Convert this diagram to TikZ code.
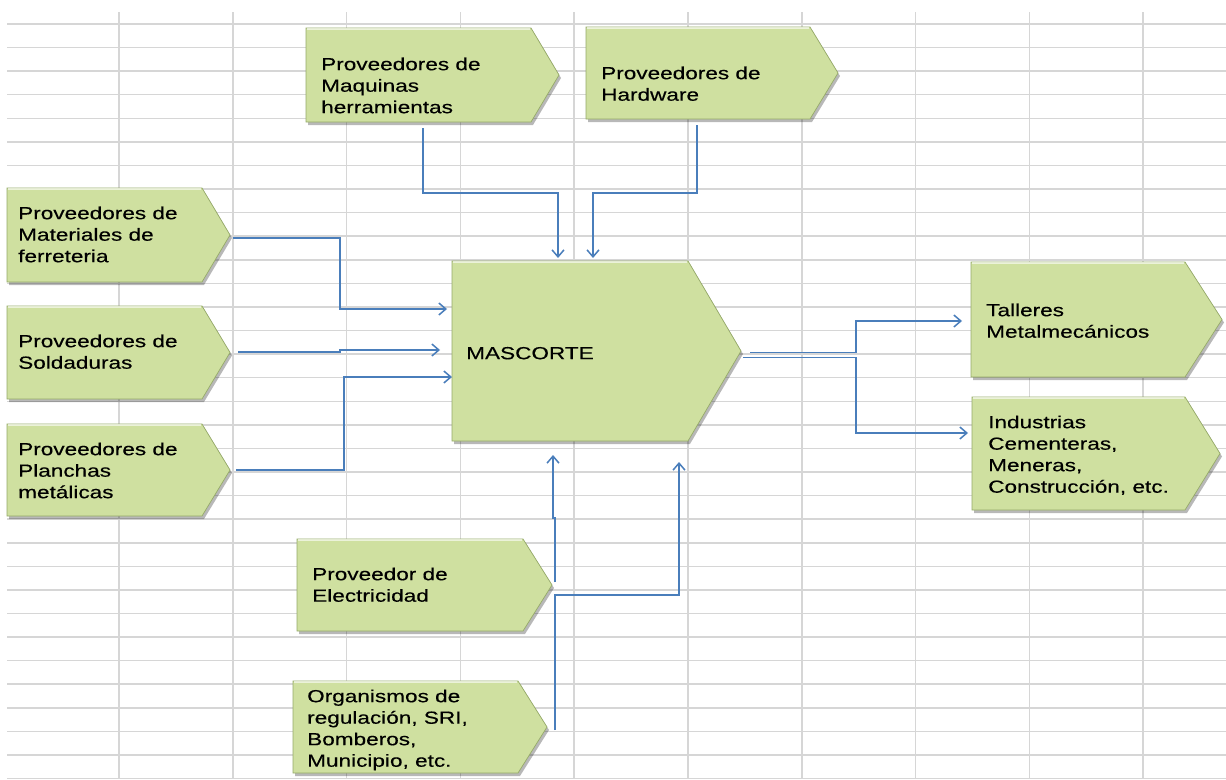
\documentclass[tikz,border=0pt]{standalone}
\usepackage{fontspec}
\usetikzlibrary{arrows.meta}
\newfontfamily\lbfont[FakeStretch=1.29,FakeBold=0.35]{Liberation Sans}
\definecolor{boxgreen}{RGB}{207,224,160}
\definecolor{boxedge}{RGB}{150,170,105}
\definecolor{linkblue}{RGB}{74,126,187}
\definecolor{gridgray}{RGB}{214,214,214}
\tikzset{
  gridline/.style={draw=gridgray, line width=1.5pt},
  boxshadow/.style={fill=black, opacity=0.28},
  boxfill/.style={fill=boxgreen, draw=boxedge, line width=0.7pt},
  lbl/.style={anchor=north west, inner sep=0pt, align=left,
    font=\lbfont\fontsize{17.5}{21.5}\selectfont, text=black},
  link/.style={draw=linkblue, line width=1.5pt,
    -{Straight Barb[length=7pt,width=12pt]}},
}
\newcommand{\chev}[5]{%
  \path[boxshadow] (#1+2,#2+3) -- (#3+2,#2+3) -- (#4+2,{(#2+#5)/2+3}) -- (#3+2,#5+3) -- (#1+2,#5+3) -- cycle;
  \path[boxfill] (#1,#2) -- (#3,#2) -- (#4,{(#2+#5)/2}) -- (#3,#5) -- (#1,#5) -- cycle;
  \draw[white, opacity=0.6, line width=1.2pt] (#1+1,#2+1) -- (#3-1,#2+1);
}
\newcommand{\st}{\rule{0pt}{16pt}}
\begin{document}
\begin{tikzpicture}[x=1pt,y=-1pt]
\useasboundingbox (0,0) rectangle (1226,779);
\fill[white] (0,0) rectangle (1226,779);
% spreadsheet grid
\foreach \k in {0,...,32} \draw[gridline] (7,{24+23.58*\k}) -- (1226,{24+23.58*\k});
\foreach \k in {0,...,9} \draw[gridline] ({119+113.8*\k},12) -- ({119+113.8*\k},779);

% boxes
\chev{306}{28}{531}{559}{122}
\chev{586}{27}{810}{838}{119}
\chev{7}{188}{202}{230}{282}
\chev{7}{306}{202}{230}{399}
\chev{7}{424}{202}{230}{516}
\chev{452}{261}{688}{741}{441}
\chev{971}{262}{1185}{1222}{377}
\chev{972}{397}{1185}{1220}{510}
\chev{297}{539}{523}{552}{631}
\chev{293}{681}{518}{547}{773}

% texts
\node[lbl] (maq) at (321,54) {\st Proveedores de\\Maquinas\\herramientas};
\node[lbl] (hw)  at (601,63) {\st Proveedores de\\Hardware};
\node[lbl] (mat) at (18,203) {\st Proveedores de\\Materiales de\\ferreteria};
\node[lbl] (sol) at (18,331) {\st Proveedores de\\Soldaduras};
\node[lbl] (pla) at (18,439) {\st Proveedores de\\Planchas\\met\'alicas};
\node[lbl] (mas) at (466,343) {\st MASCORTE};
\node[lbl] (tal) at (986,300) {\st Talleres\\Metalmec\'anicos};
\node[lbl] (ind) at (988,412) {\st Industrias\\Cementeras,\\Meneras,\\Construcci\'on, etc.};
\node[lbl] (ele) at (312,564) {\st Proveedor de\\Electricidad};
\node[lbl] (org) at (307,686) {\st Organismos de\\regulaci\'on, SRI,\\Bomberos,\\Municipio, etc.};

% connection points
\coordinate (maqout) at (423,128);
\coordinate (hwout)  at (697,125);
\coordinate (matout) at (233,238);
\coordinate (solout) at (238,352);
\coordinate (plaout) at (236,470);
\coordinate (masout1) at (750,352.7);
\coordinate (masout2) at (743,357.7);
\coordinate (eleout) at (555,582);
\coordinate (orgout) at (555,730);
\coordinate (masT1) at (558,258);
\coordinate (masT2) at (593,258);
\coordinate (masL1) at (447,309);
\coordinate (masL2) at (440,350);
\coordinate (masL3) at (452,377);
\coordinate (masB1) at (553,455);
\coordinate (masB2) at (679,462);
\coordinate (talin) at (962,321);
\coordinate (indin) at (968,433);

% connectors
\draw[link] (maqout) -- ++(0,65) -| (masT1);
\draw[link] (hwout) -- ++(0,68) -| (masT2);
\draw[link] (matout) -- ++(107,0) |- (masL1);
\draw[link] (solout) -- ++(102,0) |- (masL2);
\draw[link] (plaout) -- ++(108,0) |- (masL3);
\draw[link] (masout1) -- ++(106,0) |- (talin);
\draw[link] (masout2) -- ++(113,0) |- (indin);
\draw[link] (eleout) -- ++(0,-64) -- ++(-2,0) -- (masB1);
\draw[link] (orgout) -- ++(0,-135) -| (masB2);
\end{tikzpicture}
\end{document}
